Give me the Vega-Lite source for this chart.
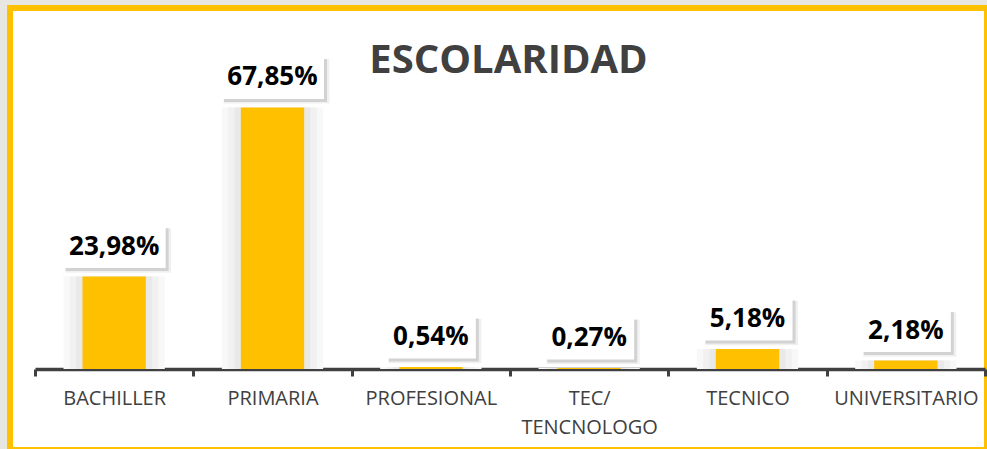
{
  "$schema": "https://vega.github.io/schema/vega-lite/v6.json",
  "width": 977,
  "height": 442,
  "autosize": {"type": "none"},
  "padding": {"left": 10, "top": 8, "right": 0, "bottom": 0},
  "background": "#e8e6e1",
  "config": {"view": {"fill": "white", "stroke": "#FFC000", "strokeWidth": 6}},
  "title": {"text": "ESCOLARIDAD", "font": "Open Sans", "fontSize": 40, "fontWeight": "bold", "color": "#404040", "anchor": "middle", "baseline": "alphabetic", "offset": -105, "dx": 10},
  "data": {"values": [
    {"cat": "BACHILLER", "value": 23.98, "label": "23,98%"},
    {"cat": "PRIMARIA", "value": 67.85, "label": "67,85%"},
    {"cat": "PROFESIONAL", "value": 0.54, "label": "0,54%"},
    {"cat": "TEC/ TENCNOLOGO", "value": 0.27, "label": "0,27%"},
    {"cat": "TECNICO", "value": 5.18, "label": "5,18%"},
    {"cat": "UNIVERSITARIO", "value": 2.18, "label": "2,18%"}
  ]},
  "encoding": {
    "x": {"field": "cat", "type": "nominal", "sort": null,
      "scale": {"range": [25, 975], "paddingInner": 0, "paddingOuter": 0},
      "axis": {"title": null, "orient": "bottom", "offset": -81, "domainColor": "#404040", "domainWidth": 3.5,
        "tickBand": "extent", "tickColor": "#404040", "tickWidth": 3, "tickSize": 7, "labelAngle": 0,
        "labelFont": "Open Sans", "labelFontSize": 20, "labelColor": "#404040", "labelPadding": 12,
        "labelLineHeight": 29, "labelOverlap": false, "labelBound": false, "grid": false,
        "labelExpr": "datum.label == 'TEC/ TENCNOLOGO' ? ['TEC/', 'TENCNOLOGO'] : datum.label"}},
    "y": {"field": "value", "type": "quantitative", "scale": {"domain": [-21.01, 93.64], "nice": false, "zero": false}, "axis": null}
  },
  "layer": [
    {"mark": {"type": "bar", "width": {"band": 0.64}, "color": "#f8f8f8"}},
    {"mark": {"type": "bar", "width": {"band": 0.56}, "color": "#f1f1f1"}},
    {"mark": {"type": "bar", "width": {"band": 0.48}, "color": "#e9e9e9"}},
    {"mark": {"type": "bar", "width": {"band": 0.4}, "color": "#FFC000"}},
    {"transform": [{"filter": "length(datum.label) > 5"}],
     "mark": {"type": "point", "shape": "M-1,-0.4175L1,-0.4175L1,0.4175L-1,0.4175Z", "size": 11236, "filled": true, "fill": "#000", "opacity": 0.06, "stroke": null, "xOffset": 4, "yOffset": -26}},
    {"transform": [{"filter": "length(datum.label) > 5"}],
     "mark": {"type": "point", "shape": "M-1,-0.4175L1,-0.4175L1,0.4175L-1,0.4175Z", "size": 10609, "filled": true, "fill": "#000", "opacity": 0.12, "stroke": null, "xOffset": 3, "yOffset": -27}},
    {"transform": [{"filter": "length(datum.label) <= 5"}],
     "mark": {"type": "point", "shape": "M-1,-0.478L1,-0.478L1,0.478L-1,0.478Z", "size": 8649, "filled": true, "fill": "#000", "opacity": 0.06, "stroke": null, "xOffset": 4, "yOffset": -26}},
    {"transform": [{"filter": "length(datum.label) <= 5"}],
     "mark": {"type": "point", "shape": "M-1,-0.478L1,-0.478L1,0.478L-1,0.478Z", "size": 8100, "filled": true, "fill": "#000", "opacity": 0.12, "stroke": null, "xOffset": 3, "yOffset": -27}},
    {"transform": [{"filter": "length(datum.label) > 5"}],
     "mark": {"type": "point", "shape": "M-1,-0.4175L1,-0.4175L1,0.4175L-1,0.4175Z", "size": 10609, "filled": true, "fill": "white", "opacity": 1, "stroke": null, "yOffset": -30}},
    {"transform": [{"filter": "length(datum.label) <= 5"}],
     "mark": {"type": "point", "shape": "M-1,-0.478L1,-0.478L1,0.478L-1,0.478Z", "size": 8100, "filled": true, "fill": "white", "opacity": 1, "stroke": null, "yOffset": -30}},
    {"mark": {"type": "text", "font": "Open Sans", "fontSize": 26, "fontWeight": "bold", "color": "#000000", "baseline": "middle", "yOffset": -30},
     "encoding": {"text": {"field": "label", "type": "nominal"}}}
  ]
}
